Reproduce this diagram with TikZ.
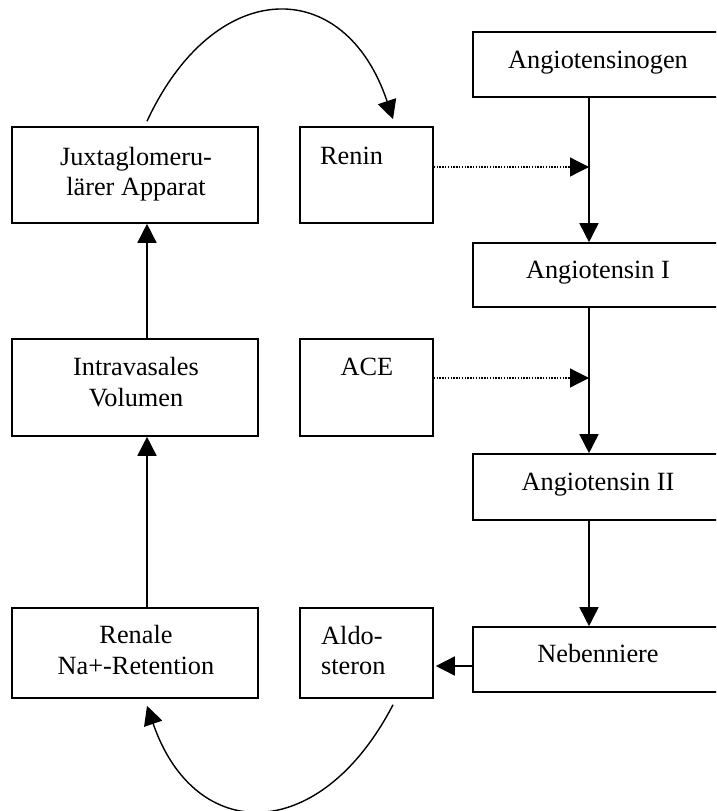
\documentclass[tikz,border=0pt]{standalone}
\usepackage{fontspec}
\setmainfont{Liberation Serif}
\usetikzlibrary{arrows.meta}
\begin{document}
\begin{tikzpicture}[x=1pt,y=-1pt,
  box/.style={draw,line width=1.6pt,rectangle,inner sep=0pt},
  txt/.style={inner sep=0pt,font=\fontsize{26.3}{30}\selectfont},
  arr/.style={line width=1.6pt,-{Triangle[length=19pt,width=19pt]}},
  dotarr/.style={line width=1.2pt,dash pattern=on 1.4pt off 1.4pt,-{Triangle[length=19pt,width=19pt]}},
  curv/.style={line width=1.4pt,-{Triangle[length=19pt,width=19pt]}}]
\useasboundingbox (0,0) rectangle (716,811);
\clip (0,0) rectangle (716,811);
% coordinates for connector lanes
\coordinate (lc) at (147,0);
\coordinate (rc) at (393,0);
\coordinate (spine) at (589,0);
\coordinate (rj) at (589,167);
\coordinate (aj) at (589,378);
\coordinate (na) at (0,666);
% boxes
\node[box,minimum width=246pt,minimum height=96pt] (jga) at (135,175) {};
\node[box,minimum width=133pt,minimum height=96pt] (ren) at (366.5,175) {};
\node[box,minimum width=246pt,minimum height=97pt] (iv) at (135,387.5) {};
\node[box,minimum width=133pt,minimum height=97pt] (ace) at (366.5,387.5) {};
\node[box,minimum width=246pt,minimum height=90pt] (rnr) at (135,653) {};
\node[box,minimum width=133pt,minimum height=90pt] (ald) at (366.5,653) {};
\node[box,minimum width=250pt,minimum height=65pt] (agen) at (598,64.5) {};
\node[box,minimum width=250pt,minimum height=64pt] (a1) at (598,275) {};
\node[box,minimum width=250pt,minimum height=66pt] (a2) at (598,487) {};
\node[box,minimum width=250pt,minimum height=65pt] (neb) at (598,659.5) {};
% texts
\node[txt,anchor=base] (t1) at (136,165) {Juxtaglomeru-};
\node[txt,anchor=base] (t2) at (136,195) {lärer Apparat};
\node[txt,anchor=base west] (t3) at (320,164) {Renin};
\node[txt,anchor=base] (t4) at (136,375) {Intravasales};
\node[txt,anchor=base] (t5) at (136,406) {Volumen};
\node[txt,anchor=base] (t6) at (367,375) {ACE};
\node[txt,anchor=base] (t7) at (136,643) {Renale};
\node[txt,anchor=base] (t8) at (136,674) {Na+-Retention};
\node[txt,anchor=base west] (t9) at (321,644) {Aldo-};
\node[txt,anchor=base west] (t10) at (321,674) {steron};
\node[txt,anchor=base] (t11) at (598,68) {Angiotensinogen};
\node[txt,anchor=base] (t12) at (598,278) {Angiotensin I};
\node[txt,anchor=base] (t13) at (598,490) {Angiotensin II};
\node[txt,anchor=base] (t14) at (598,662) {Nebenniere};
% connectors
\draw[arr] (rnr.north -| lc) -- (iv.south -| lc);
\draw[arr] (iv.north -| lc) -- (jga.south -| lc);
\draw[arr] (agen.south -| spine) -- (a1.north -| spine);
\draw[arr] (a1.south -| spine) -- (a2.north -| spine);
\draw[arr] (a2.south -| spine) -- (neb.north -| spine);
\draw[arr,shorten >=2pt] (neb.west |- na) -- (ald.east |- na);
\draw[dotarr] (ren.east |- rj) -- (rj);
\draw[dotarr] (ace.east |- aj) -- (aj);
\draw[curv] ([yshift=5pt]jga.north -| lc) .. controls (215,-25) and (345,-25) .. ([yshift=7pt]ren.north -| rc);
\draw[curv] ([yshift=-6pt]ald.south -| rc) .. controls (320,845) and (195,845) .. ([yshift=-7pt]rnr.south -| lc);
\end{tikzpicture}
\end{document}
